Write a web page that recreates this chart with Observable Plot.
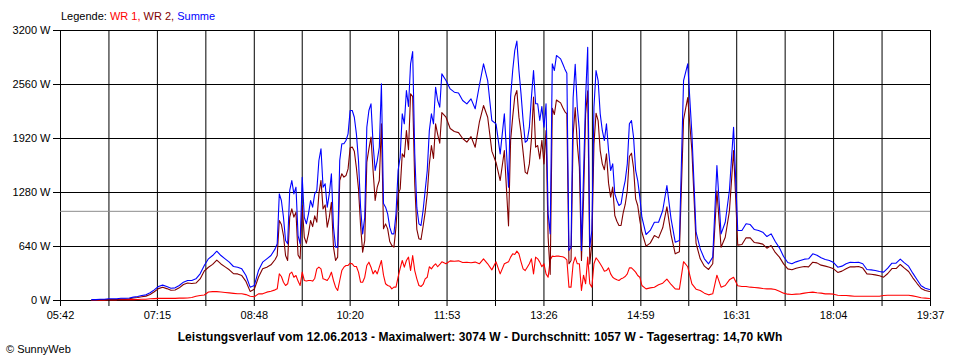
<!DOCTYPE html>
<html><head><meta charset="utf-8">
<script src="https://cdn.jsdelivr.net/npm/d3@7"></script>
<script src="https://cdn.jsdelivr.net/npm/@observablehq/plot@0.6"></script>
<style>
body{margin:0;background:#fff;font-family:"Liberation Sans",Arial,sans-serif;color:#000;}
#wrap{position:relative;width:960px;height:360px;overflow:hidden;}
#legend{position:absolute;left:61px;top:9px;font-size:11px;line-height:14px;white-space:nowrap;}
#chart{position:absolute;left:0;top:22px;}
#caption{position:absolute;left:0;width:960px;top:330px;text-align:center;font-weight:bold;font-size:12px;letter-spacing:0.08px;line-height:14px;white-space:nowrap;}
#copy{position:absolute;left:6px;top:342px;font-size:11px;line-height:14px;white-space:nowrap;}
</style></head><body>
<div id="wrap">
<div id="legend"></div>
<div id="chart"></div>
<div id="caption"></div>
<div id="copy"></div>
</div>
<script>
// ---- data ----
const seriesNames = ["WR 1", "WR 2", "Summe"];
const seriesColors = ["#ff0000", "#800000", "#0000ff"];
const dateText = "12.06.2013";
const maxValue = 3074;
const avgValue = 1057;
const dayYield = "14,70";
const yTicks = [0, 640, 1280, 1920, 2560, 3200];
const xTickLabels = ["05:42","07:15","08:48","10:20","11:53","13:26","14:59","16:31","18:04","19:37"];

const times = (
// 06:12 - 09:08 (4 min)
"06:12 06:16 06:20 06:24 06:28 06:32 06:36 06:40 06:44 06:48 06:52 06:56 " +
"07:00 07:04 07:08 07:12 07:16 07:20 07:24 07:28 07:32 07:36 07:40 07:44 07:48 07:52 07:56 " +
"08:00 08:04 08:08 08:12 08:16 08:20 08:24 08:28 08:32 08:36 08:40 08:44 08:48 08:52 08:56 " +
"09:00 09:04 09:08 " +
// 09:10 - 11:46 (2 min)
"09:10 09:12 09:14 09:16 09:18 09:20 09:22 09:24 09:26 09:28 09:30 09:32 09:34 09:36 09:38 09:40 09:42 09:44 09:46 09:48 09:50 09:52 09:54 09:56 09:58 " +
"10:00 10:02 10:04 10:06 10:08 10:10 10:12 10:14 10:16 10:18 10:20 10:22 10:24 10:26 10:28 10:30 10:32 10:34 10:36 10:38 10:40 10:42 10:44 10:46 10:48 10:50 10:52 10:54 10:56 10:58 " +
"11:00 11:02 11:04 11:06 11:08 11:10 11:12 11:14 11:16 11:18 11:20 11:22 11:24 11:26 11:28 11:30 11:32 11:34 11:36 11:38 11:40 11:42 11:44 11:46 " +
// 11:48 - 12:52 (4 min)
"11:48 11:52 11:56 12:00 12:04 12:08 12:12 12:16 12:20 12:24 12:28 12:32 12:36 12:40 12:44 12:48 12:52 " +
// 12:54 - 14:58 (2 min)
"12:54 12:56 12:58 " +
"13:00 13:02 13:04 13:06 13:08 13:10 13:12 13:14 13:16 13:18 13:20 13:22 13:24 13:26 13:28 13:30 13:32 13:34 13:36 13:38 13:40 13:42 13:44 13:46 13:48 13:50 13:52 13:54 13:56 13:58 " +
"14:00 14:02 14:04 14:06 14:08 14:10 14:12 14:14 14:16 14:18 14:20 14:22 14:24 14:26 14:28 14:30 14:32 14:34 14:36 14:38 14:40 14:42 14:44 14:46 14:48 14:50 14:52 14:54 14:56 14:58 " +
// 15:00 - 19:36 (4 min)
"15:00 15:04 15:08 15:12 15:16 15:20 15:24 15:28 15:32 15:36 15:40 15:44 15:48 15:52 15:56 " +
"16:00 16:04 16:08 16:12 16:16 16:20 16:24 16:28 16:32 16:36 16:40 16:44 16:48 16:52 16:56 " +
"17:00 17:04 17:08 17:12 17:16 17:20 17:24 17:28 17:32 17:36 17:40 17:44 17:48 17:52 17:56 " +
"18:00 18:04 18:08 18:12 18:16 18:20 18:24 18:28 18:32 18:36 18:40 18:44 18:48 18:52 18:56 " +
"19:00 19:04 19:08 19:12 19:16 19:20 19:24 19:28 19:32 19:36").split(" ");

const wr1 = [
// 06:12 - 09:08
5,5,5,5,8,8,8,10,10,10,10,12,
15,15,20,22,25,25,25,25,25,28,28,30,35,50,60,
65,100,105,105,100,95,90,85,80,80,70,50,45,79,79,
99,110,126,
// 09:10 - 11:46
138,316,284,217,178,198,316,336,276,296,230,178,336,237,230,237,237,230,261,375,395,375,257,250,237,
276,336,237,158,118,237,355,395,415,415,442,434,403,403,336,217,217,276,415,454,395,316,355,316,395,474,300,198,178,170,
138,158,158,276,380,474,395,474,514,355,533,355,257,178,166,190,257,276,400,375,410,435,400,427,
// 11:48 - 12:52
458,435,470,466,470,450,453,448,455,435,494,435,363,458,316,435,458,
// 12:54 - 14:58
514,553,545,
585,553,458,375,355,395,435,494,316,514,494,455,400,435,316,276,480,526,522,526,526,522,518,506,482,158,158,435,514,435,
435,118,300,198,514,198,158,435,506,474,435,395,347,355,387,316,276,257,245,237,257,268,284,316,387,387,363,336,296,276,
// 15:00 - 19:36
178,138,150,158,186,205,253,190,138,134,460,400,198,134,118,
87,67,79,300,158,178,245,276,174,166,166,158,154,150,142,
138,138,130,110,87,75,71,75,79,87,95,99,91,87,79,
79,75,62,59,59,55,51,51,51,51,51,51,51,60,63,
63,63,63,63,63,55,45,32,28,24];

const wr2 = [
// 06:12 - 09:08
5,5,10,10,12,12,12,17,17,20,30,35,
44,52,71,104,141,157,141,121,125,150,189,207,202,207,256,
350,394,428,479,433,399,364,318,315,295,226,108,133,276,375,
395,423,486,
// 09:10 - 11:46
534,948,901,770,533,474,988,1086,988,1047,540,494,1125,750,679,790,948,876,1003,929,1264,1423,1086,1133,869,
988,1165,632,474,514,1422,1502,1462,1481,1560,1810,1818,1769,1572,1323,889,573,711,1639,1798,1936,1541,1186,1343,1422,2094,850,908,849,699,
652,632,869,1265,1320,1738,1699,2015,1786,2450,2417,1383,843,731,723,877,1047,1265,1615,1837,1684,2093,1970,1864,
// 11:48 - 12:52
2228,2172,2038,2003,1990,1920,1878,1942,1817,2113,2311,2172,1770,1636,1422,1777,885,
// 12:54 - 14:58
1896,2173,2418,
2489,2173,1991,1758,1521,1501,1619,1916,2410,1817,1837,1678,1900,1619,2015,751,310,2279,2204,2377,2358,2342,2287,2239,2212,435,474,1965,2286,1856,
1580,475,1200,2212,2486,434,672,1856,2220,2133,1777,1620,1549,1739,1391,1225,1344,1007,940,889,889,1036,1138,1304,1707,1746,1572,1205,1126,949,
// 15:00 - 19:36
809,644,680,770,742,862,1110,778,553,577,2147,2405,1777,676,494,
407,368,435,1300,632,750,1059,1778,656,664,743,742,687,680,668,
620,652,569,514,434,375,364,383,395,403,399,454,446,419,407,
395,375,333,348,376,399,399,403,384,316,312,304,293,276,320,
379,379,427,383,344,269,204,142,118,106];

const summe = [
// 06:12 - 09:08
10,10,15,15,20,20,20,27,27,30,40,47,
59,67,91,126,166,182,166,146,150,178,217,237,237,257,316,
415,494,533,584,533,494,454,403,395,375,296,158,178,355,454,
494,533,612,
// 09:10 - 11:46
672,1264,1185,987,711,672,1304,1422,1264,1343,770,672,1461,987,909,1027,1185,1106,1264,1304,1659,1798,1343,1383,1106,
1264,1501,869,632,632,1659,1857,1857,1896,1975,2252,2252,2172,1975,1659,1106,790,987,2054,2252,2331,1857,1541,1659,1817,2568,1150,1106,1027,869,
790,790,1027,1541,1700,2212,2094,2489,2300,2805,2950,1738,1100,909,889,1067,1304,1541,2015,2212,2094,2528,2370,2291,
// 11:48 - 12:52
2686,2607,2508,2469,2460,2370,2331,2390,2272,2548,2805,2607,2133,2094,1738,2212,1343,
// 12:54 - 14:58
2410,2726,2963,
3074,2726,2449,2133,1876,1896,2054,2410,2726,2331,2331,2133,2300,2054,2331,1027,790,2805,2726,2903,2884,2864,2805,2745,2694,593,632,2400,2800,2291,
2015,593,1500,2410,3000,632,830,2291,2726,2607,2212,2015,1896,2094,1778,1541,1620,1264,1185,1126,1146,1304,1422,1620,2094,2133,1935,1541,1422,1225,
// 15:00 - 19:36
987,782,830,928,928,1067,1363,968,691,711,2607,2805,1975,810,612,
494,435,514,1600,790,928,1304,2054,830,830,909,900,841,830,810,
758,790,699,624,521,450,435,458,474,490,494,553,537,506,486,
474,450,395,407,435,454,450,454,435,367,363,355,344,336,383,
442,442,490,446,407,324,249,174,146,130];

// ---- build ----
const toMin = s => { const [h, m] = s.split(":").map(Number); return h * 60 + m; };
const n = Math.min(times.length, wr1.length, wr2.length, summe.length);
if (times.length !== wr1.length || times.length !== wr2.length || times.length !== summe.length)
  console.warn("length mismatch", times.length, wr1.length, wr2.length, summe.length);
const rows = times.slice(0, n).map((t, i) => ({t: toMin(t), wr1: wr1[i], wr2: wr2[i], summe: summe[i]}));
const major = xTickLabels.map(toMin);
const minor = major.slice(0, -1).map((v, i) => (v + major[i + 1]) / 2);
const allX = [...major, ...minor].sort((a, b) => a - b);
const labelOf = new Map(major.map((v, i) => [v, xTickLabels[i]]));

document.getElementById("legend").innerHTML =
  'Legende: ' + seriesNames.map((nm, i) =>
    `<span style="color:${seriesColors[i]}">${nm}${i < seriesNames.length - 1 ? "," : ""}</span>`).join(" ");
document.getElementById("caption").textContent =
  `Leistungsverlauf vom ${dateText} - Maximalwert: ${maxValue} W - Durchschnitt: ${avgValue} W - Tagesertrag: ${dayYield} kWh`;
document.getElementById("copy").textContent = "© SunnyWeb";

const chart = Plot.plot({
  width: 960,
  height: 310,
  marginTop: 8,
  marginBottom: 32,
  marginLeft: 60,
  marginRight: 30,
  x: {domain: [major[0], major[major.length - 1]], label: null},
  y: {domain: [yTicks[0], yTicks[yTicks.length - 1]], label: null},
  style: {fontFamily: "'Liberation Sans', Arial, sans-serif", fontSize: "11px", color: "black", background: "white", overflow: "visible"},
  marks: [
    Plot.gridX(allX, {stroke: "black", strokeOpacity: 1}),
    Plot.gridY(yTicks, {stroke: "black", strokeOpacity: 1}),
    Plot.ruleY([avgValue], {stroke: "#8c8c8c", strokeWidth: 1}),
    Plot.line(rows, {x: "t", y: "wr1", stroke: seriesColors[0], strokeWidth: 1.1, curve: "linear"}),
    Plot.line(rows, {x: "t", y: "wr2", stroke: seriesColors[1], strokeWidth: 1.1, curve: "linear"}),
    Plot.line(rows, {x: "t", y: "summe", stroke: seriesColors[2], strokeWidth: 1.1, curve: "linear"}),
    Plot.axisY(yTicks, {tickFormat: d => d + " W", tickSize: 7, tickPadding: 3, stroke: "black", strokeOpacity: 1}),
    Plot.axisX(allX, {tickFormat: d => labelOf.get(d) ?? "", tickSize: 6, tickPadding: 5, stroke: "black", strokeOpacity: 1})
  ]
});
document.getElementById("chart").appendChild(chart);
</script>
</body></html>
